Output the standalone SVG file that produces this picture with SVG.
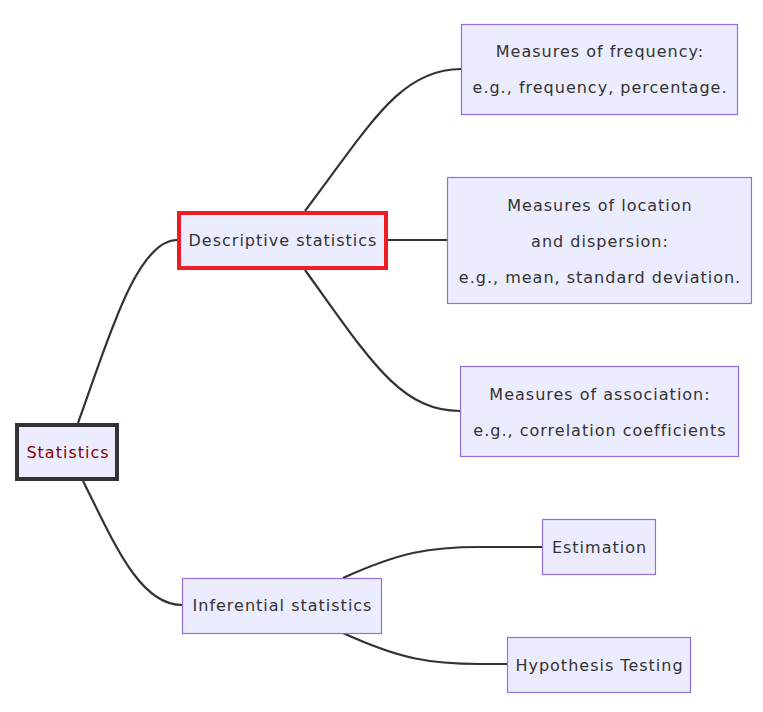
<svg xmlns="http://www.w3.org/2000/svg" width="763" height="712" viewBox="0 0 763 712">
<style>
.edge{fill:none;stroke:#333333;stroke-width:2.2}
.box{fill:#ECECFF;stroke:#9370DB;stroke-width:1.2}
.t{font-family:"Trebuchet MS","DejaVu Sans","Noto Sans",sans-serif;font-size:16px;letter-spacing:1px;fill:#333333;text-anchor:middle;dominant-baseline:central}
</style>
<rect width="763" height="712" fill="#ffffff"/>
<g id="connectors">
<path class="edge" d="M78,423 C105,350 135,240 177,240"/>
<path class="edge" d="M83,481 C115,545 140,605 182,605"/>
<path class="edge" d="M305,211 C370,125 400,69 461,69"/>
<path class="edge" d="M388,240 L447,240"/>
<path class="edge" d="M305,270 C370,360 400,411 460,411"/>
<path class="edge" d="M343,578 C400,552 430,547 480,547 L542,547"/>
<path class="edge" d="M343,633 C400,659 430,664 480,664 L507,664"/>
</g>
<g id="statistics">
<rect x="17" y="425" width="100" height="54" fill="#ECECFF" stroke="#333333" stroke-width="4"/>
<text class="t" x="68" y="452" style="fill:#8B0000">Statistics</text>
</g>
<g id="descriptive">
<rect x="179" y="213" width="207" height="55" fill="#ECECFF" stroke="#EE1C25" stroke-width="4"/>
<text class="t" x="283" y="240.5">Descriptive statistics</text>
</g>
<g id="inferential">
<rect class="box" x="182.5" y="578.5" width="199" height="55"/>
<text class="t" x="282.5" y="605.5">Inferential statistics</text>
</g>
<g id="frequency">
<rect class="box" x="461.5" y="24.5" width="276" height="90"/>
<text class="t" x="600" y="51">Measures of frequency:</text>
<text class="t" x="600" y="87">e.g., frequency, percentage.</text>
</g>
<g id="location">
<rect class="box" x="447.5" y="177.5" width="304" height="126"/>
<text class="t" x="600" y="205">Measures of location</text>
<text class="t" x="600" y="241">and dispersion:</text>
<text class="t" x="600" y="277">e.g., mean, standard deviation.</text>
</g>
<g id="association">
<rect class="box" x="460.5" y="366.5" width="278" height="90"/>
<text class="t" x="600" y="394">Measures of association:</text>
<text class="t" x="600" y="430">e.g., correlation coefficients</text>
</g>
<g id="estimation">
<rect class="box" x="542.5" y="519.5" width="113" height="55"/>
<text class="t" x="599.5" y="547">Estimation</text>
</g>
<g id="hypothesis">
<rect class="box" x="507.5" y="637.5" width="183" height="55"/>
<text class="t" x="599.5" y="665">Hypothesis Testing</text>
</g>
</svg>
